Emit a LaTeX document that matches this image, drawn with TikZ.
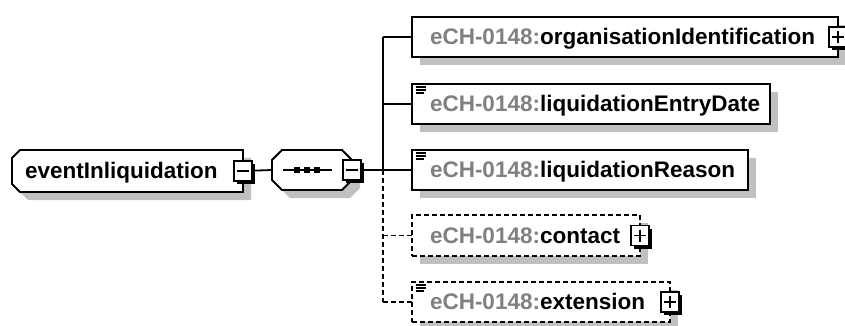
\documentclass[tikz,border=0pt]{standalone}
\usepackage{fontspec}
\setmainfont{Liberation Sans}
\usetikzlibrary{shadows}
\definecolor{pfx}{HTML}{808080}
\definecolor{shd}{HTML}{C0C0C0}
\begin{document}
\begin{tikzpicture}[x=1pt,y=-1pt,
  every node/.style={inner sep=0pt, outer sep=0pt},
  lbl/.style={font=\fontsize{22.5}{26}\selectfont\bfseries, anchor=base west},
  elbox/.style={draw, line width=1.8pt, fill=white, rectangle, minimum height=40pt, anchor=north west,
     general shadow={fill=shd, shadow xshift=8pt, shadow yshift=-8pt}},
  optbox/.style={elbox, dash pattern=on 5pt off 3pt},
  tog/.style={draw, line width=1.5pt, fill=white, minimum width=18pt, minimum height=20pt,
     general shadow={fill=black, shadow xshift=3pt, shadow yshift=-3pt}},
  conn/.style={line width=1.8pt},
  optconn/.style={conn, dash pattern=on 5pt off 3pt},
  sign/.style={line width=1.7pt},
  docicon/.style={line width=1.3pt}
]
\useasboundingbox (0,0) rectangle (845,325);

% root element
\node[minimum width=231pt, minimum height=42pt] (root) at (127.5,171) {};
\fill[shd] (28,158) -- (251,158) -- (251,200) -- (28,200) -- (20,192) -- (20,166) -- cycle;
\draw[conn, fill=white] (20,150) -- (243,150) -- (243,192) -- (20,192) -- (12,184) -- (12,158) -- cycle;
\node[lbl] (rootlbl) at (25,178.5) {eventInliquidation};

% sequence compositor
\node[minimum width=80pt, minimum height=40pt] (seq) at (312,170) {};
\fill[shd] (290,158) -- (350,158) -- (360,168) -- (360,188) -- (350,198) -- (290,198) -- (280,188) -- (280,168) -- cycle;
\draw[conn, fill=white] (282,150) -- (342,150) -- (352,160) -- (352,180) -- (342,190) -- (282,190) -- (272,180) -- (272,160) -- cycle;
\draw[conn] ([xshift=-29pt]seq.center) -- ([xshift=20pt]seq.center);
\foreach \dx in {-15,-5,5} \fill ([shift={(\dx-3,-3)}]seq.center) rectangle ++(6,6);

% bus
\coordinate (bus) at (383,170);

% child elements
\node[elbox, minimum width=426pt] (e1) at (412,17) {};
\node[elbox, minimum width=358pt] (e2) at (412,84) {};
\node[elbox, minimum width=336pt] (e3) at (412,150) {};
\node[optbox, minimum width=228pt, minimum height=41pt] (e4) at (412,215) {};
\node[optbox, minimum width=258pt] (e5) at (412,282) {};

\node[lbl] (l1) at ([shift={(18,7.5)}]e1.west) {\textcolor{pfx}{eCH-0148:}organisationIdentification};
\node[lbl] (l2) at ([shift={(18,7.5)}]e2.west) {\textcolor{pfx}{eCH-0148:}liquidationEntryDate};
\node[lbl] (l3) at ([shift={(18,7.5)}]e3.west) {\textcolor{pfx}{eCH-0148:}liquidationReason};
\node[lbl] (l4) at ([shift={(18,7.5)}]e4.west) {\textcolor{pfx}{eCH-0148:}contact};
\node[lbl] (l5) at ([shift={(18,7.5)}]e5.west) {\textcolor{pfx}{eCH-0148:}extension};

% documentation icons
\foreach \e in {e2,e3,e5}{
  \draw[docicon] ([shift={(3.5,3)}]\e.north west) -- ++(10,0);
  \draw[docicon] ([shift={(3.5,6)}]\e.north west) -- ++(10,0);
  \draw[docicon] ([shift={(3.5,9)}]\e.north west) -- ++(8,0);
}

% connectors
\draw[conn] (root.east) -- (seq.west);
\draw[conn] (seq.east) -- (bus);
\draw[conn] (bus |- e1.west) -- (bus);
\draw[optconn] (bus) -- (bus |- e5.west);
\draw[conn] (bus |- e1.west) -- (e1.west);
\draw[conn] (bus |- e2.west) -- (e2.west);
\draw[conn] (bus |- e3.west) -- (e3.west);
\draw[optconn] (bus |- e4.west) -- (e4.west);
\draw[optconn] (bus |- e5.west) -- (e5.west);

% toggles
\node[tog] (t0) at (root.east) {};
\draw[sign] ([xshift=-6pt]t0.center) -- ([xshift=6pt]t0.center);
\node[tog] (ts) at (seq.east) {};
\draw[sign] ([xshift=-6pt]ts.center) -- ([xshift=6pt]ts.center);
\foreach \t/\e in {t1/e1,t4/e4,t5/e5}{
  \node[tog] (\t) at (\e.east) {};
  \draw[sign] ([xshift=-6pt]\t.center) -- ([xshift=6pt]\t.center);
  \draw[sign] ([yshift=-6pt]\t.center) -- ([yshift=6pt]\t.center);
}
\end{tikzpicture}
\end{document}
